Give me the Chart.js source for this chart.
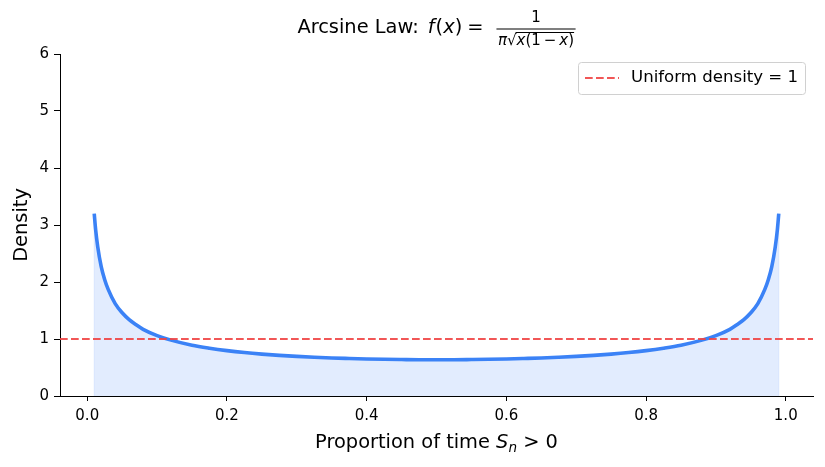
<!DOCTYPE html>
<html>
<head>
<meta charset="utf-8">
<script src="https://cdn.jsdelivr.net/npm/chart.js@4"></script>
<style>
  html, body { margin: 0; padding: 0; background: #fff; }
  #wrap { width: 825px; height: 467px; }
</style>
</head>
<body>
<div id="wrap"><canvas id="myChart" width="825" height="467"></canvas></div>
<script>
// values
const propX = [0.01, 0.012, 0.015, 0.02, 0.025, 0.03, 0.04, 0.05, 0.06, 0.07, 0.08, 0.10, 0.12, 0.15, 0.175, 0.20, 0.225, 0.25, 0.275, 0.30, 0.325, 0.35, 0.375, 0.40, 0.425, 0.45, 0.475, 0.50,
  0.525, 0.55, 0.575, 0.60, 0.625, 0.65, 0.675, 0.70, 0.725, 0.75, 0.775, 0.80, 0.825, 0.85, 0.88, 0.90, 0.92, 0.93, 0.94, 0.95, 0.96, 0.97, 0.975, 0.98, 0.985, 0.988, 0.99];
const densityY = [3.20, 2.92, 2.62, 2.27, 2.04, 1.87, 1.62, 1.46, 1.34, 1.25, 1.17, 1.06, 0.98, 0.89, 0.838, 0.796, 0.762, 0.735, 0.713, 0.695, 0.680, 0.667, 0.658, 0.650, 0.644, 0.640, 0.637, 0.637,
  0.637, 0.640, 0.644, 0.650, 0.658, 0.667, 0.680, 0.695, 0.713, 0.735, 0.762, 0.796, 0.838, 0.89, 0.98, 1.06, 1.17, 1.25, 1.34, 1.46, 1.62, 1.87, 2.04, 2.27, 2.62, 2.92, 3.20];
const uniformLevel = 1;
const xRange = [-0.039, 1.039];
const yRange = [0, 6];
const xTicks = [0.0, 0.2, 0.4, 0.6, 0.8, 1.0];
const yTicks = [0, 1, 2, 3, 4, 5, 6];

const FONT = "'DejaVu Sans', sans-serif";
const blue = "#3b82f6";
const red = "rgba(239, 68, 68, 0.9)";

const curve = propX.map((x, i) => ({ x: x, y: densityY[i] }));
const last = propX.length - 1;

// title, legend and axis labels with a bit of math typesetting
const textPlugin = {
  id: "texts",
  afterDraw(chart) {
    const ctx = chart.ctx;
    const area = chart.chartArea;
    const cx = (area.left + area.right) / 2;
    ctx.save();
    ctx.fillStyle = "#000";
    ctx.textBaseline = "alphabetic";

    // title: [text, font, gap after]
    const big = "19.4px " + FONT;
    const bigI = "italic 19.4px " + FONT;
    const small = "15px " + FONT;
    const smallI = "italic 15px " + FONT;
    const parts = [["Arcsine Law:", big, 9], ["f", bigI, 1], ["(", big, 0], ["x", bigI, 0], [")", big, 5], ["=", big, 13]];
    const denom = [["π", smallI, 0], ["√", small, 0], ["x", smallI, 0], ["(1", small, 3], ["−", small, 3], ["x", smallI, 0], [")", small, 0]];
    const widthOf = (list) => list.reduce((a, p) => { ctx.font = p[1]; return a + ctx.measureText(p[0]).width + p[2]; }, 0);
    const w = widthOf(parts);
    const fracW = widthOf(denom) + 3;
    let x = cx - (w + fracW) / 2;
    const base = 33;
    parts.forEach(p => { ctx.font = p[1]; ctx.fillText(p[0], x, base); x += ctx.measureText(p[0]).width + p[2]; });
    const fx = x;
    ctx.fillRect(fx, 28.5, fracW, 1);
    ctx.font = small;
    ctx.textAlign = "center";
    ctx.fillText("1", fx + fracW / 2, 21.5);
    ctx.textAlign = "left";
    let dx = fx + 1.5;
    let sqrtEnd = 0;
    denom.forEach((p, i) => {
      ctx.font = p[1];
      ctx.fillText(p[0], dx, 45);
      dx += ctx.measureText(p[0]).width + p[2];
      if (i === 1) sqrtEnd = dx;
    });
    ctx.fillRect(sqrtEnd - 1, 32, dx - sqrtEnd + 1, 1);

    // legend
    const lx = 578, ly = 62, lw = 227, lh = 32;
    ctx.beginPath();
    ctx.roundRect(lx + 0.5, ly + 0.5, lw, lh, 3);
    ctx.fillStyle = "rgba(255,255,255,0.8)";
    ctx.fill();
    ctx.strokeStyle = "#d0d0d0";
    ctx.lineWidth = 1;
    ctx.stroke();
    ctx.beginPath();
    ctx.setLineDash([7.7, 3.3]);
    ctx.strokeStyle = red;
    ctx.lineWidth = 2.1;
    ctx.moveTo(585, 78);
    ctx.lineTo(619, 78);
    ctx.stroke();
    ctx.setLineDash([]);
    ctx.fillStyle = "#000";
    ctx.font = "16.6px " + FONT;
    ctx.textBaseline = "middle";
    ctx.fillText("Uniform density = 1", 631, 78);

    // x axis label
    ctx.textBaseline = "alphabetic";
    const lab = "19.4px " + FONT, labI = "italic 19.4px " + FONT, sub = "italic 13.6px " + FONT;
    const xl = [["Proportion of time ", lab, 0], ["S", labI, 0], ["n", sub, 4], [" > 0", lab, 0]];
    let xw = 0;
    xl.forEach(p => { ctx.font = p[1]; xw += ctx.measureText(p[0]).width; });
    let px = cx - xw / 2;
    xl.forEach(p => { ctx.font = p[1]; ctx.fillText(p[0], px, 448 + p[2]); px += ctx.measureText(p[0]).width; });

    // y axis label
    ctx.translate(22, (area.top + area.bottom) / 2);
    ctx.rotate(-Math.PI / 2);
    ctx.font = lab;
    ctx.textAlign = "center";
    ctx.textBaseline = "middle";
    ctx.fillText("Density", 0, 0);
    ctx.restore();
  }
};

new Chart(document.getElementById("myChart"), {
  type: "line",
  data: {
    datasets: [
      {
        label: "density",
        data: curve,
        borderColor: blue,
        borderWidth: 3.6,
        backgroundColor: "rgba(59, 130, 246, 0.15)",
        fill: "origin",
        pointRadius: 0,
        cubicInterpolationMode: "monotone",
        order: 1,
      },
      {
        label: "edge left",
        data: [{ x: propX[0], y: 0 }, { x: propX[0], y: densityY[0] }],
        borderColor: "rgba(59, 130, 246, 0.15)",
        borderWidth: 1,
        pointRadius: 0,
        fill: false,
        order: 3,
      },
      {
        label: "edge right",
        data: [{ x: propX[last], y: 0 }, { x: propX[last], y: densityY[last] }],
        borderColor: "rgba(59, 130, 246, 0.15)",
        borderWidth: 1,
        pointRadius: 0,
        fill: false,
        order: 3,
      },
      {
        label: "Uniform density = 1",
        data: [{ x: xRange[0], y: uniformLevel }, { x: xRange[1], y: uniformLevel }],
        borderColor: red,
        borderWidth: 2.1,
        borderDash: [7.7, 3.3],
        pointRadius: 0,
        fill: false,
        order: 0,
      },
    ],
  },
  options: {
    responsive: false,
    animation: false,
    layout: { padding: { left: 0, right: 12, top: 54, bottom: 0 } },
    plugins: {
      legend: { display: false },
      title: { display: false },
      tooltip: { enabled: false },
    },
    scales: {
      x: {
        type: "linear",
        min: xRange[0],
        max: xRange[1],
        afterBuildTicks: (s) => { s.ticks = xTicks.map((v) => ({ value: v })); },
        afterFit: (s) => { s.height = 71; },
        ticks: {
          callback: (v) => v.toFixed(1),
          color: "#000",
          font: { family: FONT, size: 15 },
          padding: 6,
          maxRotation: 0,
          autoSkip: false,
        },
        grid: { drawOnChartArea: false, drawTicks: true, tickLength: 5, color: "#000" },
        border: { display: true, color: "#000", width: 1 },
      },
      y: {
        min: yRange[0],
        max: yRange[1],
        afterBuildTicks: (s) => { s.ticks = yTicks.map((v) => ({ value: v })); },
        afterFit: (s) => { s.width = 60; },
        ticks: {
          color: "#000",
          font: { family: FONT, size: 15 },
          padding: 5,
        },
        grid: { drawOnChartArea: false, drawTicks: true, tickLength: 6, color: "#000" },
        border: { display: true, color: "#000", width: 1 },
      },
    },
  },
  plugins: [textPlugin],
});
</script>
</body>
</html>
